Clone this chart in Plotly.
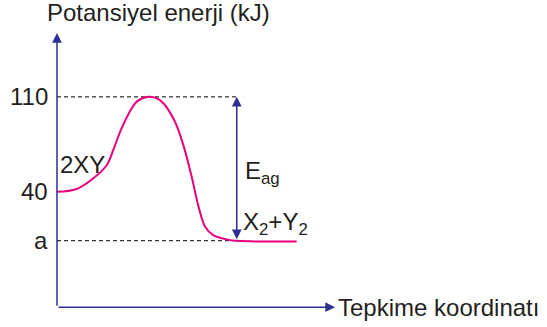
import plotly.graph_objects as go

# energy profile (x = reaction coordinate, arbitrary units; y = kJ)
reaction_x = [0, 7.0, 13.0, 17.8, 20.1, 23.1, 26.7, 28.5, 32.6, 35.6, 38.0, 42.1,
              45.1, 48.1, 50.5, 52.9, 55.8, 60.6, 64.2, 85.6]
energy_kj = [40, 42.1, 50.0, 59.8, 70.9, 86.9, 101.6, 106.5, 110, 109.0, 105.3, 91.8,
             74.6, 51.2, 29.5, 14.3, 8.1, 5.0, 3.9, 3.4]

A_LEVEL = 4          # the unlabelled product level "a"
PEAK = 110
REACTANT = 40
y_ticks = [PEAK, REACTANT, A_LEVEL]
y_ticklabels = ["110", "40", "a"]
EAG_X = 64.2         # where the activation-energy arrow sits

NAVY = "#2e3192"
MAGENTA = "#e6007e"
INK = "#231f20"
FONT = "Liberation Sans"
FS = 24

fig = go.Figure()

# dashed guide lines at the peak and the product level
for lvl in (PEAK, A_LEVEL):
    fig.add_trace(go.Scatter(x=[0, EAG_X], y=[lvl, lvl], mode="lines",
                             line=dict(color="#000000", width=1, dash="4px,3px"),
                             hoverinfo="skip"))

fig.add_trace(go.Scatter(x=reaction_x, y=energy_kj, mode="lines",
                         line=dict(color=MAGENTA, width=2, shape="spline", smoothing=1),
                         hoverinfo="skip"))


def arrow(x, y, ax, ay, both=False):
    fig.add_annotation(x=x, y=y, ax=ax, ay=ay, xref="x", yref="y", axref="x", ayref="y",
                       text="", showarrow=True, arrowhead=2, arrowsize=1.3,
                       arrowwidth=1.5, arrowcolor=NAVY, standoff=0, startstandoff=0,
                       arrowside="end+start" if both else "end", startarrowhead=2,
                       startarrowsize=1.3)


# axes drawn as arrows
arrow(0, 157, 0, -45)
arrow(99.3, -45, 0, -45)
# activation energy arrow
arrow(EAG_X, PEAK, EAG_X, A_LEVEL, both=True)

txt = dict(font=dict(family=FONT, size=FS, color=INK), showarrow=False)
for v, lab in zip(y_ticks, y_ticklabels):
    fig.add_annotation(x=-2.4, y=v, xref="x", yref="y", text=lab, xanchor="right",
                       yanchor="middle", **txt)

fig.add_annotation(x=0.006, y=1.058, xref="paper", yref="paper", xanchor="left",
                   yanchor="middle", text="Potansiyel enerji (kJ)", **txt)
fig.add_annotation(x=0.995, y=-45, xref="paper", yref="y", xanchor="left",
                   yanchor="middle", text="Tepkime koordinatı", **txt)
fig.add_annotation(x=0.4, y=60.5, xref="x", yref="y", xanchor="left",
                   yanchor="middle", text="2XY", **txt)
fig.add_annotation(x=66.6, y=54.5, xref="x", yref="y", xanchor="left",
                   yanchor="middle", text="E<sub>ag</sub>", **txt)
fig.add_annotation(x=65.8, y=17, xref="x", yref="y", xanchor="left",
                   yanchor="middle", text="X<sub>2</sub>+Y<sub>2</sub>", **txt)

fig.update_layout(
    width=547, height=327, showlegend=False,
    margin=dict(l=43, r=210, t=29, b=13),
    paper_bgcolor="white", plot_bgcolor="white",
    xaxis=dict(range=[-5, 100], visible=False, fixedrange=True),
    yaxis=dict(range=[-50, 160], visible=False, fixedrange=True),
)

# drop the page's default body margin so the figure fills the window
fig.write_html("out.html", config={"displayModeBar": False},
               post_script="document.body.style.margin = '0';")
